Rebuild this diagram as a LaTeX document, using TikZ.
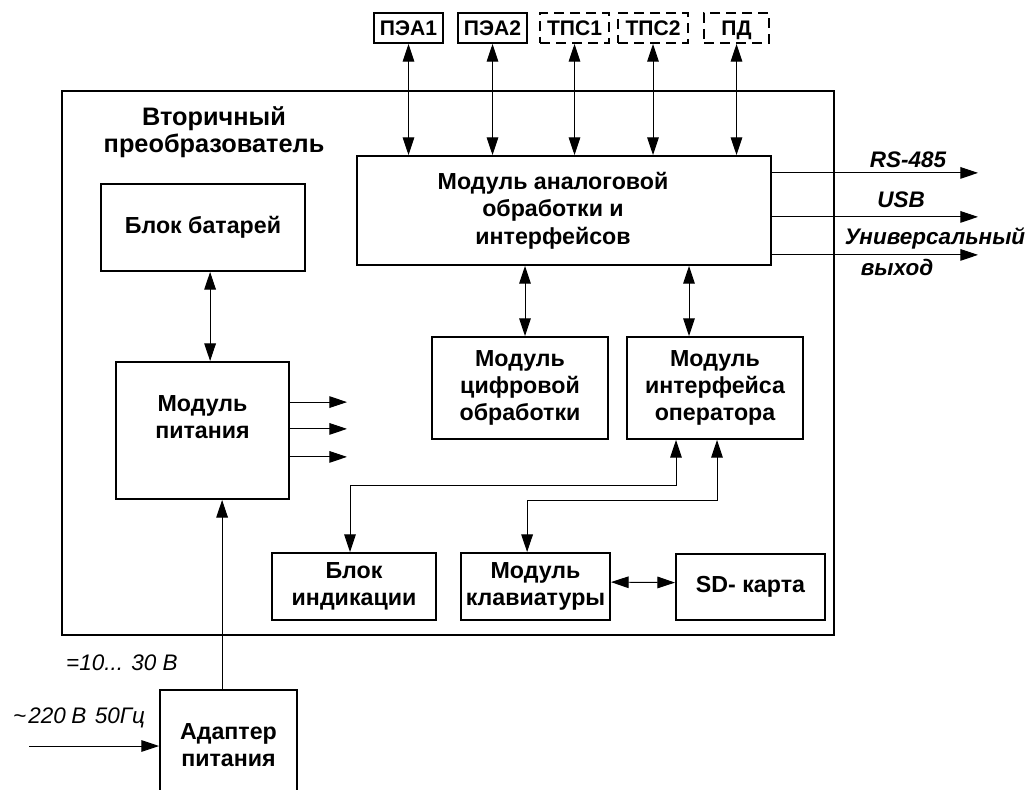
\documentclass[tikz,border=0pt]{standalone}
\usepackage{fontspec}
\setmainfont{Liberation Sans}
\usetikzlibrary{arrows.meta}

\begin{document}
\begin{tikzpicture}[x=0.25mm, y=-0.25mm,
		bloque/.style={draw, line width=1.4pt, align=center, inner sep=0pt,
			font=\fontsize{16.5}{19.5}\selectfont\bfseries},
		sensor/.style={bloque, minimum width=17.25mm, minimum height=7.5mm,
			text height=11pt, text depth=0pt, font=\fontsize{15}{18}\selectfont\bfseries},
		sensorpunt/.style={sensor, dash pattern=on 2.4mm off 1.6mm},
		enlace/.style={line width=0.7pt, {Triangle[length=4.4mm,width=2.9mm]}-{Triangle[length=4.4mm,width=2.9mm]}},
		salida/.style={line width=0.7pt, -{Triangle[length=4.4mm,width=2.9mm]}},
		rotulo/.style={font=\fontsize{16}{19}\selectfont\itshape, inner sep=0pt},
		rotulobf/.style={font=\fontsize{16}{19}\selectfont\bfseries\itshape, inner sep=0pt}]

			\clip (0,0) rectangle (1032,789);

			% Definir el bloque exterior y su titulo
			\node[bloque, minimum width=193mm, minimum height=136mm] (vp) at (448,363) {};
			\node[font=\fontsize{18}{19.5}\selectfont\bfseries, align=center] (titulo) at (214,132) {Вторичный\\преобразователь};

			% Dibujar los sensores
			\node[sensor] (pea1) at (408.5,28) {ПЭА1};
			\node[sensor] (pea2) at (492.5,28) {ПЭА2};
			\node[sensorpunt] (tps1) at (574.5,28) {ТПС1};
			\node[sensorpunt, minimum width=17.5mm] (tps2) at (653,28) {ТПС2};
			\node[sensorpunt, minimum width=16.25mm] (pd) at (736.5,28) {ПД};

			% Dibujar los modulos
			\node[bloque, minimum width=103.5mm, minimum height=27.25mm] (analog) at (564,210.5) {Модуль аналоговой\kern5.5mm\\обработки и\kern5.5mm\\интерфейсов\kern5.5mm};
			\node[bloque, minimum width=44mm, minimum height=25.5mm] (cifr) at (520,388) {Модуль\\цифровой\\обработки};
			\node[bloque, minimum width=44mm, minimum height=25.5mm] (oper) at (715,388) {Модуль\\интерфейса\\оператора};
			\node[bloque, minimum width=51mm, minimum height=21.75mm] (bat) at (203,227.5) {Блок батарей};
			\node[bloque, minimum width=43.25mm, minimum height=34.25mm] (pit) at (202.5,430.5) {Модуль\\питания\\\mbox{}};
			\node[bloque, minimum width=41mm, minimum height=16.75mm] (indik) at (354,586.5) {Блок\\индикации};
			\node[bloque, minimum width=37.25mm, minimum height=16.75mm] (klav) at (535.5,586.5) {Модуль\\клавиатуры};
			\node[bloque, minimum width=37.25mm, minimum height=16.5mm] (sd) at (750.5,587) {SD- карта};
			\node[bloque, minimum width=34.25mm, minimum height=27.5mm] (adapt) at (228.5,745) {Адаптер\\питания};

			% Conexiones de los sensores
			\foreach \s in {pea1,pea2,tps1,tps2,pd}
				\draw[enlace] (\s.south) -- (\s.south |- analog.north);

			% Salidas de interfaz
			\draw[salida] ([yshift=9.4mm]analog.east) -- ++(206,0);
			\draw[salida] ([yshift=-1.6mm]analog.east) -- ++(206,0);
			\draw[salida] ([yshift=-11.1mm]analog.east) -- ++(206,0);
			\node[rotulobf] (rs) at (908,160) {RS-485};
			\node[rotulobf] (usb) at (901,200) {USB};
			\node[rotulobf] (univ) at (935,238) {Универсальный};
			\node[rotulobf] (vyh) at (897,267) {выход};

			% Conexiones internas
			\draw[enlace] ([xshift=1.25mm]cifr.north) -- ([xshift=1.25mm]cifr.north |- analog.south);
			\draw[enlace] ([xshift=-6.5mm]oper.north) -- ([xshift=-6.5mm]oper.north |- analog.south);
			\draw[enlace] ([xshift=-9.75mm]oper.south) -- ++(0,46) -| ([xshift=-1mm]indik.north);
			\draw[enlace] ([xshift=0.5mm]oper.south) -- ++(0,61) -| ([xshift=-2.1mm]klav.north);
			\draw[enlace] ([yshift=1.1mm]klav.east) -- ([yshift=1.1mm]sd.west);
			\draw[enlace] ([xshift=1.9mm]pit.north) -- ([xshift=1.9mm]pit.north |- bat.south);

			% Salidas del modulo de alimentacion
			\foreach \dy in {7.1,0.4,-6.6}
				\draw[salida] ([yshift=\dy mm]pit.east) -- ++(57,0);

			% Alimentacion externa
			\coordinate (red) at (29,746);  % Entrada de red
			\draw[salida] ([xshift=-1.6mm]adapt.north) -- ([xshift=-1.6mm]adapt.north |- pit.south);
			\draw[salida] (red) -- (red -| adapt.west);
			\node[rotulo] (dc) at (122,663) {=10... 30 В};
			\node[rotulo] (ac) at (79,718) {\textasciitilde\hspace{1.5pt}220\hspace{4pt}В\hspace{6pt}50Гц};

		\end{tikzpicture}
\end{document}
